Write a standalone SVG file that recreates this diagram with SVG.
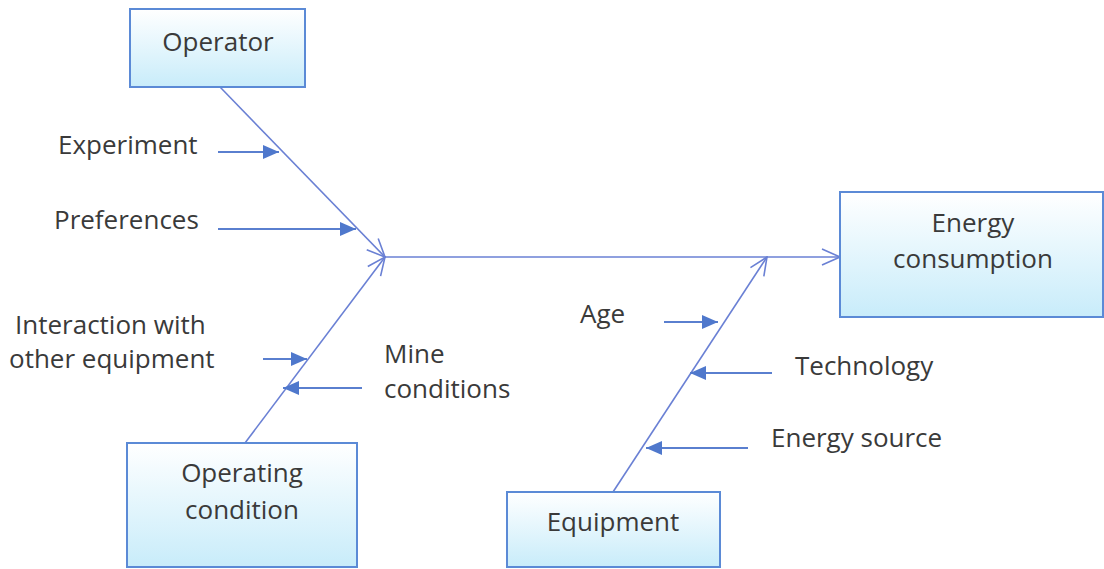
<svg xmlns="http://www.w3.org/2000/svg" width="1104" height="569" viewBox="0 0 1104 569">
<style>
.box{fill:url(#g);stroke:#5b8ad6;stroke-width:2}
.t{font-family:"Open Sans","Liberation Sans",sans-serif;font-size:26px;fill:#3a3a3a}
.c{text-anchor:middle}
.bone{stroke:#6a80d4;stroke-width:1.6;fill:none}
.arr{stroke:#5a7fcf;stroke-width:1.8;fill:none}
</style>
<defs>
<linearGradient id="g" x1="0" y1="0" x2="0" y2="1">
<stop offset="0" stop-color="#ffffff"/>
<stop offset="1" stop-color="#c8ecfa"/>
</linearGradient>
<marker id="open" viewBox="0 0 20 20" refX="19" refY="10" markerWidth="20" markerHeight="20" markerUnits="userSpaceOnUse" orient="auto">
<path d="M1,2 L19,10 L1,18" fill="none" stroke="#6a80d4" stroke-width="1.6"/>
</marker>
<marker id="fill" viewBox="0 0 16 14" refX="16" refY="7" markerWidth="16" markerHeight="14" markerUnits="userSpaceOnUse" orient="auto">
<path d="M0,0 L16,7 L0,14 Z" fill="#4f78cc"/>
</marker>
</defs>
<g id="connectors">
<line class="bone" x1="385" y1="257" x2="840" y2="257" marker-end="url(#open)"/>
<line class="bone" x1="220" y1="87" x2="385" y2="257" marker-end="url(#open)"/>
<line class="bone" x1="245" y1="443" x2="385" y2="257" marker-end="url(#open)"/>
<line class="bone" x1="613" y1="492" x2="767" y2="257" marker-end="url(#open)"/>
<line class="arr" x1="218" y1="152" x2="279" y2="152" marker-end="url(#fill)"/>
<line class="arr" x1="218" y1="229" x2="356" y2="229" marker-end="url(#fill)"/>
<line class="arr" x1="263" y1="359" x2="307" y2="359" marker-end="url(#fill)"/>
<line class="arr" x1="362" y1="388" x2="283" y2="388" marker-end="url(#fill)"/>
<line class="arr" x1="664" y1="322" x2="718" y2="322" marker-end="url(#fill)"/>
<line class="arr" x1="772" y1="373" x2="690" y2="373" marker-end="url(#fill)"/>
<line class="arr" x1="748" y1="448" x2="646" y2="448" marker-end="url(#fill)"/>
</g>
<g id="operator">
<rect class="box" x="130" y="9" width="175" height="78"/>
<text class="t c" x="218" y="51">Operator</text>
</g>
<g id="energy-consumption">
<rect class="box" x="840" y="192" width="263" height="125"/>
<text class="t c" x="973" y="232">Energy</text>
<text class="t c" x="973" y="268">consumption</text>
</g>
<g id="operating-condition">
<rect class="box" x="127" y="443" width="230" height="124"/>
<text class="t c" x="242" y="482">Operating</text>
<text class="t c" x="242" y="519">condition</text>
</g>
<g id="equipment">
<rect class="box" x="507" y="492" width="213" height="75"/>
<text class="t c" x="613" y="531">Equipment</text>
</g>
<g id="causes">
<text class="t" x="58" y="154">Experiment</text>
<text class="t" x="54" y="229">Preferences</text>
<text class="t" x="15" y="334">Interaction with</text>
<text class="t" x="9" y="368">other equipment</text>
<text class="t" x="384" y="363">Mine</text>
<text class="t" x="384" y="398">conditions</text>
<text class="t" x="580" y="323">Age</text>
<text class="t" x="795" y="375">Technology</text>
<text class="t" x="771" y="447">Energy source</text>
</g>
</svg>
